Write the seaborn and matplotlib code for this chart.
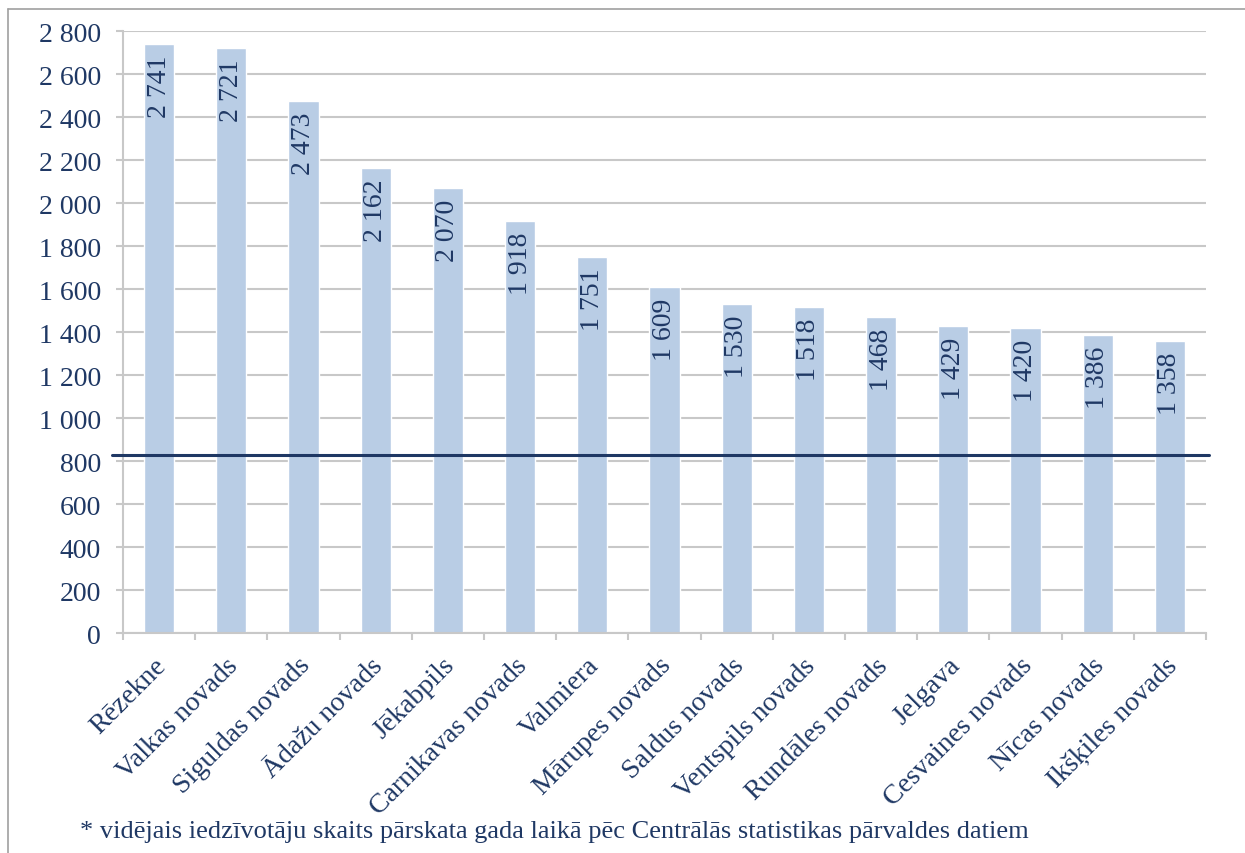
"""
Iedzīvotāju skaits pa pašvaldībām - stabiņu diagramma ar vidējo līniju.
"""

import matplotlib.pyplot as plt
import matplotlib.ticker as mticker
from matplotlib.lines import Line2D
import pandas as pd
import seaborn as sns

# ==========================================================
# Data
# ==========================================================

PLACES = [
    "Rēzekne", "Valkas novads", "Siguldas novads", "Ādažu novads",
    "Jēkabpils", "Carnikavas novads", "Valmiera", "Mārupes novads",
    "Saldus novads", "Ventspils novads", "Rundāles novads", "Jelgava",
    "Cesvaines novads", "Nīcas novads", "Ikšķiles novads",
]

VALUES = [2741, 2721, 2473, 2162, 2070, 1918, 1751, 1609,
          1530, 1518, 1468, 1429, 1420, 1386, 1358]

AVERAGE = 828

Y_TICKS = [0, 200, 400, 600, 800, 1000, 1200, 1400, 1600,
           1800, 2000, 2200, 2400, 2600, 2800]

FOOTNOTE = ("* vidējais iedzīvotāju skaits pārskata gada laikā "
            "pēc Centrālās statistikas pārvaldes datiem")

# ==========================================================
# Style
# ==========================================================

BAR_COLOR = "#B9CDE5"
TEXT_COLOR = "#1F3864"
GRID_COLOR = "#C8C8C8"
LINE_COLOR = "#1F3864"
FONT_SIZE = 20
LABEL_SHIFT = -0.08   # move rotated category labels slightly left

sns.set_style("white")
plt.rcParams["font.family"] = ["Liberation Serif", "DejaVu Serif"]


def space_thousands(x, pos):
    return f"{int(x):,}".replace(",", " ")


# ==========================================================
# Plot
# ==========================================================

df = pd.DataFrame({"place": PLACES, "value": VALUES})

fig = plt.figure(figsize=(12.45, 8.54), dpi=100)
ax = fig.add_axes([0.0988, 0.2576, 0.8699, 0.7049])

sns.barplot(
    data=df,
    x="place",
    y="value",
    color=BAR_COLOR,
    saturation=1,
    width=0.42,
    ax=ax,
)

ax.set_ylim(0, 2800)
ax.set_xlim(-0.5, len(PLACES) - 0.5)
ax.set_yticks(Y_TICKS)
ax.yaxis.set_major_formatter(mticker.FuncFormatter(space_thousands))

ax.grid(axis="y", color=GRID_COLOR, linewidth=1.5)
ax.set_axisbelow(True)

for side in ["top", "right"]:
    ax.spines[side].set_visible(False)
for side in ["left", "bottom"]:
    ax.spines[side].set_color(GRID_COLOR)
    ax.spines[side].set_linewidth(1.5)

# x ticks at category boundaries, labels at centres
ax.set_xticks([i - 0.5 for i in range(len(PLACES) + 1)], minor=False)
ax.set_xticklabels([])
ax.set_xticks([i + LABEL_SHIFT for i in range(len(PLACES))], minor=True)
ax.set_xticklabels(PLACES, minor=True, rotation=45, ha="right",
                   rotation_mode="anchor", fontsize=FONT_SIZE,
                   color=TEXT_COLOR)

ax.tick_params(axis="x", which="major", length=5, width=1.5,
               color=GRID_COLOR, bottom=True)
ax.tick_params(axis="x", which="minor", length=0, pad=14)
ax.tick_params(axis="y", length=5, width=1.5, color=GRID_COLOR,
               left=True, labelsize=FONT_SIZE, labelcolor=TEXT_COLOR,
               pad=11)

ax.set_xlabel("")
ax.set_ylabel("")

# values inside the bars
for i, v in enumerate(VALUES):
    ax.text(i, v - 50, space_thousands(v, None), rotation=90,
            ha="center", va="top", fontsize=FONT_SIZE, color=TEXT_COLOR)

# average line
ax.axhline(AVERAGE, xmin=-0.01, xmax=1.003, color=LINE_COLOR,
           linewidth=2.2, clip_on=False, zorder=5)

# footnote
fig.text(80 / 1245, 1 - 832 / 854, FOOTNOTE, fontsize=19,
         color=TEXT_COLOR, va="center", ha="left")

# outer frame (top and left edges visible)
fig.add_artist(Line2D([8 / 1245, 1.0], [1 - 10 / 854, 1 - 10 / 854],
                      color="#A0A0A0", linewidth=1.2))
fig.add_artist(Line2D([8 / 1245, 8 / 1245], [0.0, 1 - 10 / 854],
                      color="#A0A0A0", linewidth=1.2))

fig.savefig("out.png", dpi=100)
